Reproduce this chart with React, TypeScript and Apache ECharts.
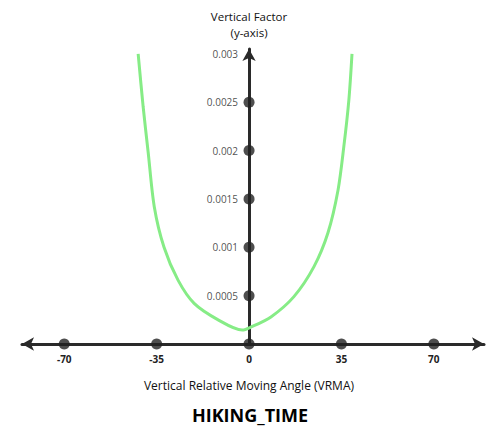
import { useEffect, useRef } from 'react';
import * as echarts from 'echarts';

// Curve: [VRMA angle, vertical factor].
const curvePoints: [number, number][] = [
  [-42.0, 0.003],
  [-40.1, 0.00245],
  [-38.2, 0.00198],
  [-35.9, 0.00142],
  [-32.2, 0.001],
  [-26.9, 0.00066],
  [-20.8, 0.00042],
  [-11.7, 0.00025],
  [-2.6, 0.000145],
  [0.8, 0.000176],
  [8.3, 0.00028],
  [17.0, 0.00049],
  [24.6, 0.0008],
  [29.9, 0.00115],
  [33.7, 0.00159],
  [35.9, 0.00204],
  [37.8, 0.00252],
  [39.0, 0.003],
];

const xTicks = [-70, -35, 0, 35, 70];
const yTicks = [0.0005, 0.001, 0.0015, 0.002, 0.0025, 0.003];
const yDotTicks = [0.0005, 0.001, 0.0015, 0.002, 0.0025];

const FONT = '"Open Sans", "Noto Sans", sans-serif';
const INK = '#2a2a2a';

export default function App() {
  const ref = useRef<HTMLDivElement | null>(null);

  useEffect(() => {
    if (!ref.current) return;
    const chart = echarts.init(ref.current, null, { renderer: 'svg' });

    const dots: [number, number][] = [
      ...xTicks.map((x) => [x, 0] as [number, number]),
      ...yDotTicks.map((y) => [0, y] as [number, number]),
    ];

    const text = (t: string, x: number, y: number, size: number, bold = false) => ({
      type: 'text',
      x,
      y,
      style: {
        text: t,
        align: 'center',
        verticalAlign: 'middle',
        fontSize: size,
        lineHeight: size + 2,
        fontWeight: bold ? 'bold' : 'normal',
        fontFamily: FONT,
        fill: bold ? '#000' : '#111',
      },
    });

    chart.setOption({
      animation: false,
      backgroundColor: '#fff',
      grid: { left: 22, right: 16, top: 49, bottom: 91, outerBoundsMode: 'none' },
      xAxis: {
        type: 'value',
        min: -86,
        max: 89,
        axisLine: {
          symbol: ['arrow', 'arrow'],
          symbolSize: [10, 12],
          lineStyle: { color: INK, width: 3 },
        },
        axisTick: { show: false },
        splitLine: { show: false },
        axisLabel: {
          customValues: xTicks,
          margin: 10,
          fontSize: 10,
          fontWeight: 'bold',
          fontFamily: FONT,
          color: '#222',
        },
      },
      yAxis: {
        type: 'value',
        min: 0,
        max: 0.00305,
        axisLine: {
          onZero: true,
          symbol: ['none', 'arrow'],
          symbolSize: [10, 12],
          lineStyle: { color: INK, width: 3 },
        },
        axisTick: { show: false },
        splitLine: { show: false },
        axisLabel: { show: false },
      },
      graphic: [
        text('Vertical Factor', 249, 16, 11.5),
        text('(y-axis)', 249, 32, 11.5),
        text('Vertical Relative Moving Angle (VRMA)', 249, 385, 12),
        text('HIKING_TIME', 250, 415, 18, true),
      ],
      series: [
        {
          type: 'line',
          data: curvePoints,
          smooth: 0.3,
          showSymbol: false,
          lineStyle: { color: '#86ec86', width: 3 },
          z: 1,
        },
        {
          type: 'scatter',
          data: dots,
          symbolSize: 11,
          itemStyle: { color: '#222' },
          z: 3,
        },
        {
          type: 'scatter',
          data: yTicks.map((y) => [0, y]),
          symbolSize: 0,
          silent: true,
          label: {
            show: true,
            position: 'left',
            distance: 11,
            formatter: (p: any) => String(p.value[1]),
            fontSize: 10,
            fontFamily: FONT,
            color: '#222',
          },
          z: 4,
        },
      ],
    });

    return () => chart.dispose();
  }, []);

  return (
    <div
      ref={ref}
      style={{ position: 'absolute', left: 0, top: 0, width: 500, height: 435 }}
    />
  );
}
